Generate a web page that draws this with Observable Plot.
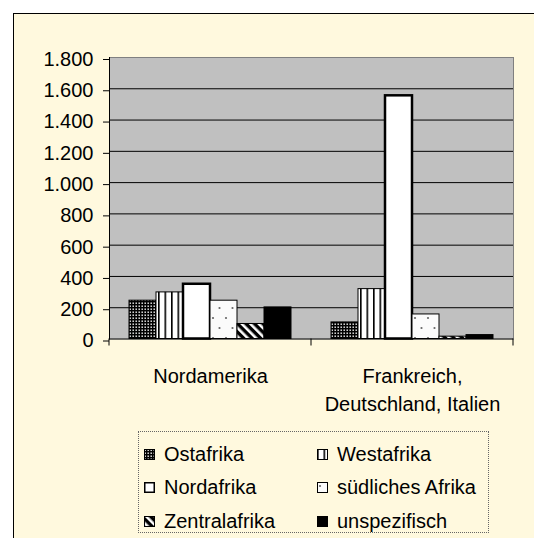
<!DOCTYPE html>
<html>
<head>
<meta charset="utf-8">
<script src="https://cdn.jsdelivr.net/npm/d3@7"></script>
<script src="https://cdn.jsdelivr.net/npm/@observablehq/plot@0.6"></script>
<style>
  html, body { margin: 0; padding: 0; background: #ffffff; overflow: hidden; width: 534px; height: 538px; }
  #frame {
    position: absolute; left: 13px; top: 13px; width: 560px; height: 560px;
    border-left: 1px solid #000; border-top: 1px solid #000;
    background: #FFF9DE;
    font-family: "Liberation Sans", Arial, sans-serif;
  }
  #chart { position: absolute; left: 0; top: 0; }
  #legend {
    position: absolute; left: 124px; top: 417px; width: 349px; height: 100px;
    border: 1px dotted #666;
    box-sizing: content-box;
  }
  .item { position: absolute; display: flex; align-items: center; height: 24px; font-size: 20px; color: #000; white-space: nowrap; }
  .item svg { margin-right: 9px; flex: none; }
</style>
</head>
<body>
<div id="frame">
  <div id="chart"></div>
  <div id="legend"></div>
</div>
<script>
// ---- data ----
const series = ["Ostafrika", "Westafrika", "Nordafrika", "südliches Afrika", "Zentralafrika", "unspezifisch"];
const regions = ["Nordamerika", "Frankreich, Deutschland, Italien"];
const valuesNordamerika = [245, 298, 350, 245, 96, 202];
const valuesEuropa = [106, 319, 1555, 157, 15, 25];
const yTicks = [0, 200, 400, 600, 800, 1000, 1200, 1400, 1600, 1800];

const patternIds = ["pOst", "pWest", "pNord", "pSued", "pZentral", "pUnspez"];
const patternUrls = patternIds.map(id => `url(#${id})`);

const valuesByRegion = [valuesNordamerika, valuesEuropa];
const data = regions.flatMap((r, i) => series.map((s, j) => ({region: r, series: s, value: valuesByRegion[i][j]})));

const de = d3.formatLocale({decimal: ",", thousands: ".", grouping: [3], currency: ["", " €"]});
const fmt = de.format(",");

const chart = Plot.plot({
  width: 520,
  height: 417,
  marginLeft: 94,
  marginRight: 21,
  marginTop: 43,
  marginBottom: 92.5,
  style: {fontFamily: "'Liberation Sans', Arial, sans-serif", fontSize: "20px", color: "#000", background: "transparent", overflow: "visible"},
  fx: {domain: regions, padding: 0, label: null},
  x: {domain: series, paddingInner: 0, paddingOuter: 0.72, axis: null},
  y: {domain: [0, 1800], label: null},
  color: {domain: series, range: patternUrls, type: "ordinal"},
  marks: [
    Plot.frame({fill: "#c0c0c0", stroke: "#c0c0c0"}),
    Plot.frame({anchor: "top", stroke: "#808080"}),
    Plot.frame({anchor: "right", stroke: "#808080", facetAnchor: "right"}),
    Plot.gridY(yTicks.filter(t => t > 0 && t < 1800), {stroke: "#000", strokeOpacity: 1}),
    Plot.barY(data, {
      fx: "region", x: "series", y: "value", fill: "series",
      stroke: "#000",
      strokeWidth: d => d.series === "Nordafrika" ? 2.5 : 1
    }),
    Plot.ruleY([0], {stroke: "#000"}),
    Plot.frame({anchor: "left", stroke: "#000", facetAnchor: "left"}),
    Plot.axisY({ticks: yTicks, tickSize: 6, tickPadding: 10, tickFormat: fmt, fontSize: 20, label: null, dy: 2}),
    Plot.axisFx({anchor: "bottom", tickSize: 0, tickPadding: 25, fontSize: 20, lineHeight: 1.37, label: null,
      tickFormat: d => d.replace(", ", ",\n")})
  ]
});

// pattern definitions
const svg = d3.select(chart);
const defs = svg.insert("defs", ":first-child");
// Ostafrika: dense dotted dark
{
  const p = defs.append("pattern").attr("id", "pOst").attr("patternUnits", "userSpaceOnUse").attr("width", 3).attr("height", 3);
  p.append("rect").attr("width", 3).attr("height", 3).attr("fill", "#000");
  p.append("rect").attr("x", 0.5).attr("y", 0.5).attr("width", 1.4).attr("height", 1.4).attr("fill", "#fff");
}
// Westafrika: vertical lines
{
  const p = defs.append("pattern").attr("id", "pWest").attr("patternUnits", "userSpaceOnUse").attr("width", 6.5).attr("height", 10);
  p.append("rect").attr("width", 6.5).attr("height", 10).attr("fill", "#fff");
  p.append("rect").attr("x", 0).attr("width", 1.6).attr("height", 10).attr("fill", "#000");
}
// Nordafrika: white
{
  const p = defs.append("pattern").attr("id", "pNord").attr("patternUnits", "userSpaceOnUse").attr("width", 10).attr("height", 10);
  p.append("rect").attr("width", 10).attr("height", 10).attr("fill", "#fff");
}
// südliches Afrika: sparse dots
{
  const p = defs.append("pattern").attr("id", "pSued").attr("patternUnits", "userSpaceOnUse").attr("width", 13).attr("height", 20);
  p.append("rect").attr("width", 13).attr("height", 20).attr("fill", "#fbfbfb");
  p.append("circle").attr("cx", 3).attr("cy", 4).attr("r", 1.1).attr("fill", "#666");
  p.append("circle").attr("cx", 9.5).attr("cy", 14).attr("r", 1.1).attr("fill", "#666");
}
// Zentralafrika: diagonal stripes
{
  const p = defs.append("pattern").attr("id", "pZentral").attr("patternUnits", "userSpaceOnUse").attr("width", 6).attr("height", 6).attr("patternTransform", "rotate(-45)");
  p.append("rect").attr("width", 6).attr("height", 6).attr("fill", "#000");
  p.append("rect").attr("width", 2.6).attr("height", 6).attr("fill", "#fff");
}
// unspezifisch: black
{
  const p = defs.append("pattern").attr("id", "pUnspez").attr("patternUnits", "userSpaceOnUse").attr("width", 10).attr("height", 10);
  p.append("rect").attr("width", 10).attr("height", 10).attr("fill", "#000");
}

// category boundary ticks below the baseline, from the library's scales
{
  const fx = chart.scale("fx");
  const y = chart.scale("y");
  const xs = [...regions.map(r => fx.apply(r)), fx.apply(regions[regions.length - 1]) + fx.bandwidth];
  const y0 = y.apply(0);
  svg.append("g").selectAll("line").data(xs).join("line")
    .attr("x1", d => d).attr("x2", d => d)
    .attr("y1", y0).attr("y2", y0 + 7)
    .attr("stroke", "#000");
}

document.getElementById("chart").appendChild(chart);

// legend
const legend = d3.select("#legend");
series.forEach((s, i) => {
  const col = i % 2, row = Math.floor(i / 2);
  const item = legend.append("div").attr("class", "item")
    .style("left", (col === 0 ? 5 : 178) + "px")
    .style("top", (10 + row * 33.5) + "px");
  const sw = item.append("svg").attr("width", 11).attr("height", 11);
  sw.append("rect").attr("x", 0.5).attr("y", 0.5).attr("width", 10).attr("height", 10)
    .attr("fill", patternUrls[i]).attr("stroke", "#000").attr("stroke-width", s === "Nordafrika" ? 2 : 1);
  item.append("span").text(s);
});
</script>
</body>
</html>
